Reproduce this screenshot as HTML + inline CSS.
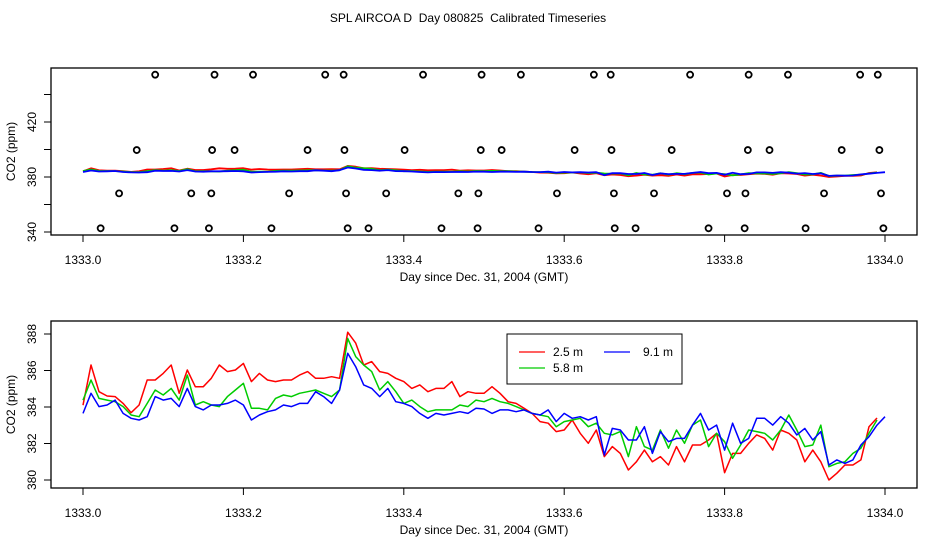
<!DOCTYPE html>
<html><head><meta charset="utf-8"><style>
html,body{margin:0;padding:0;background:#fff;}
svg text{font-family:"Liberation Sans",sans-serif;font-size:12px;fill:#000;white-space:pre;}
</style></head><body>
<svg id="chart" width="936" height="540" xmlns="http://www.w3.org/2000/svg">
<text x="468" y="22" text-anchor="middle" xml:space="preserve">SPL AIRCOA D  Day 080825  Calibrated Timeseries</text>
<g id="top"></g>
<g id="bot"></g>
</svg>
<script>
const days = [];
for (let i = 0; i <= 100; i++) days.push(1333 + i / 100);
const red = [384.1,386.3,384.84,384.6,384.57,384.2,383.69,384.11,385.48,385.48,385.84,386.3,384.75,386.03,385.11,385.11,385.57,386.3,385.94,386.03,386.39,385.39,385.84,385.48,385.39,385.48,385.48,385.75,385.94,385.57,385.57,385.66,385.57,388.1,387.5,386.3,386.49,385.94,385.84,385.57,385.39,385.02,385.21,384.84,385.02,385.02,385.39,384.57,384.84,384.75,384.75,385.11,384.75,384.29,384.2,383.93,383.65,383.2,383.11,382.65,382.74,383.29,382.56,382.01,382.74,381.28,381.83,381.46,380.55,381.0,381.64,381.0,381.28,380.82,381.83,381.0,381.92,381.92,382.19,382.56,380.4,381.46,381.46,382.01,382.47,382.28,381.64,382.74,382.56,382.19,381.0,381.64,381.0,380.0,380.37,380.82,380.82,381.1,382.92,383.4,null];
const green = [384.38,385.48,384.47,384.38,384.29,384.02,383.56,383.47,384.2,384.93,384.66,385.02,384.38,385.75,384.11,384.29,384.11,384.02,384.57,384.93,385.3,383.93,383.93,383.84,384.47,384.66,384.57,384.75,384.84,384.93,384.75,384.57,384.93,387.76,386.76,386.3,385.94,384.93,385.39,384.84,384.2,384.38,384.02,383.74,383.84,383.84,383.84,384.11,384.02,384.38,384.29,384.47,384.29,384.2,384.02,383.84,383.65,383.56,383.47,382.92,383.2,383.29,383.38,382.92,383.11,382.56,382.47,382.65,381.28,382.92,381.83,381.64,382.74,381.74,382.74,382.01,383.01,383.29,381.83,382.56,382.1,381.19,381.92,382.74,382.65,382.56,382.19,382.74,383.56,382.74,381.83,381.92,383.01,380.73,380.91,381.0,381.46,381.74,382.56,383.29,null];
const blue = [383.65,384.75,384.02,384.11,384.38,383.65,383.38,383.29,383.47,384.57,384.38,384.47,384.02,385.02,384.02,383.84,384.11,384.11,384.2,384.38,384.11,383.29,383.56,383.74,383.84,384.11,384.02,384.2,384.2,384.84,384.57,384.2,384.93,386.94,386.21,385.21,385.02,384.57,385.02,384.29,384.2,384.02,383.65,383.38,383.65,383.56,383.65,383.74,383.65,383.93,383.89,383.65,383.84,383.84,383.74,383.84,383.65,383.56,383.84,383.2,383.65,383.38,383.47,383.29,383.47,381.37,382.83,382.74,382.19,382.19,382.92,381.46,382.65,382.1,382.28,382.28,383.01,383.65,382.74,383.01,381.64,383.11,382.01,382.28,383.38,383.38,383.01,383.47,383.11,382.47,382.83,382.19,382.65,380.82,381.1,380.91,381.1,381.92,382.37,383.01,383.47];
const calDays454 = [0.090,0.164,0.212,0.302,0.325,0.424,0.497,0.546,0.637,0.658,0.757,0.830,0.879,0.969,0.991];
const calDays400 = [0.067,0.161,0.189,0.280,0.326,0.401,0.496,0.522,0.613,0.659,0.734,0.829,0.856,0.946,0.993];
const calDays368 = [0.045,0.135,0.160,0.257,0.328,0.378,0.468,0.493,0.591,0.662,0.712,0.803,0.826,0.924,0.995];
const calDays343 = [0.022,0.114,0.157,0.235,0.330,0.356,0.447,0.492,0.568,0.663,0.689,0.780,0.825,0.901,0.998];
const calLevels = [454.4,399.6,368.1,342.7];
const xTicks = [1333.0,1333.2,1333.4,1333.6,1333.8,1334.0];
const xTickLabels = ["1333.0","1333.2","1333.4","1333.6","1333.8","1334.0"];
const topYTicks = [340,360,380,400,420,440];
const topYLabels = ["340","","380","","420",""];
const botYTicks = [380,382,384,386,388];
const botYLabels = ["380","382","384","386","388"];

const NS = "http://www.w3.org/2000/svg";
function mk(parent, tag, attrs) {
  const e = document.createElementNS(NS, tag);
  for (const k in attrs) e.setAttribute(k, attrs[k]);
  parent.appendChild(e);
  return e;
}
const xs = d => 83 + (d - 1333) * 802;

function panel(g, top, bottom, yScale, yTicks, yLabels) {
  const box = mk(g, 'rect', {x:51, y:top, width:866, height:bottom-top, fill:'none', stroke:'#000', 'stroke-width':1.3});
  
  
  xTicks.forEach((t, i) => {
    const l = mk(g, 'line', {x1:xs(t), x2:xs(t), y1:bottom, y2:bottom+7, stroke:'#000'});
    
    
    const tx = mk(g, 'text', {x:xs(t), y:bottom+29, 'text-anchor':'middle'});
    tx.textContent = xTickLabels[i];
    
    
  });
  const xt = mk(g, 'text', {x:484, y:bottom+46, 'text-anchor':'middle'});
  xt.textContent = 'Day since Dec. 31, 2004 (GMT)';
  
  
  yTicks.forEach((t, i) => {
    const y = yScale(t);
    const l = mk(g, 'line', {x1:44, x2:51, y1:y, y2:y, stroke:'#000'});
    
    
    if (yLabels[i]) {
      const tx = mk(g, 'text', {x:0, y:0, 'text-anchor':'middle', transform:`translate(36,${y}) rotate(-90)`});
      tx.textContent = yLabels[i];
      
      
    }
  });
  const yt = mk(g, 'text', {x:0, y:0, 'text-anchor':'middle', transform:`translate(15,${(top+bottom)/2}) rotate(-90)`});
  yt.textContent = 'CO2 (ppm)';
  
  
}
function series(g, vals, color, yScale, name, w) {
  let d = '';
  vals.forEach((v, i) => {
    if (v === null) return;
    d += (d ? 'L' : 'M') + xs(days[i]).toFixed(1) + ',' + yScale(v).toFixed(1);
  });
  const p = mk(g, 'path', {d:d, fill:'none', stroke:color, 'stroke-width':w, 'stroke-linejoin':'round'});
  
  
}

// top panel
const gt = document.getElementById('top');
const yTop = v => 232 - (v - 340) * 1.375;
panel(gt, 68, 235, yTop, topYTicks, topYLabels);
[calDays454, calDays400, calDays368, calDays343].forEach((arr, k) => {
  arr.forEach(d => {
    const c = mk(gt, 'circle', {cx:xs(1333 + d), cy:yTop(calLevels[k]), r:3, fill:'none', stroke:'#000', 'stroke-width':1.8});
    
    
  });
});
series(gt, red, '#ff0000', yTop, 'top-line-2-5m', 1.8);
series(gt, green, '#00cc00', yTop, 'top-line-5-8m', 1.8);
series(gt, blue, '#0000ff', yTop, 'top-line-9-1m', 1.8);

// bottom panel
const gb = document.getElementById('bot');
const yBot = v => 480 - (v - 380) * 18.25;
panel(gb, 321, 488, yBot, botYTicks, botYLabels);
series(gb, red, '#ff0000', yBot, 'line-2-5m', 1.5);
series(gb, green, '#00cc00', yBot, 'line-5-8m', 1.5);
series(gb, blue, '#0000ff', yBot, 'line-9-1m', 1.5);

// legend
const lg = mk(gb, 'g', {});


mk(lg, 'rect', {x:507, y:334, width:175, height:50, fill:'#fff', stroke:'#000', 'stroke-width':1});
const entries = [['2.5 m', '#ff0000', 519, 553, 352], ['5.8 m', '#00cc00', 519, 553, 368], ['9.1 m', '#0000ff', 604, 643, 352]];
entries.forEach(e => {
  const ge = mk(lg, 'g', {});
  
  
  mk(ge, 'line', {x1:e[2], x2:e[2]+26, y1:e[4], y2:e[4], stroke:e[1], 'stroke-width':1.2});
  const t = mk(ge, 'text', {x:e[3], y:e[4]+4});
  t.textContent = e[0];
});
</script>
</body></html>
